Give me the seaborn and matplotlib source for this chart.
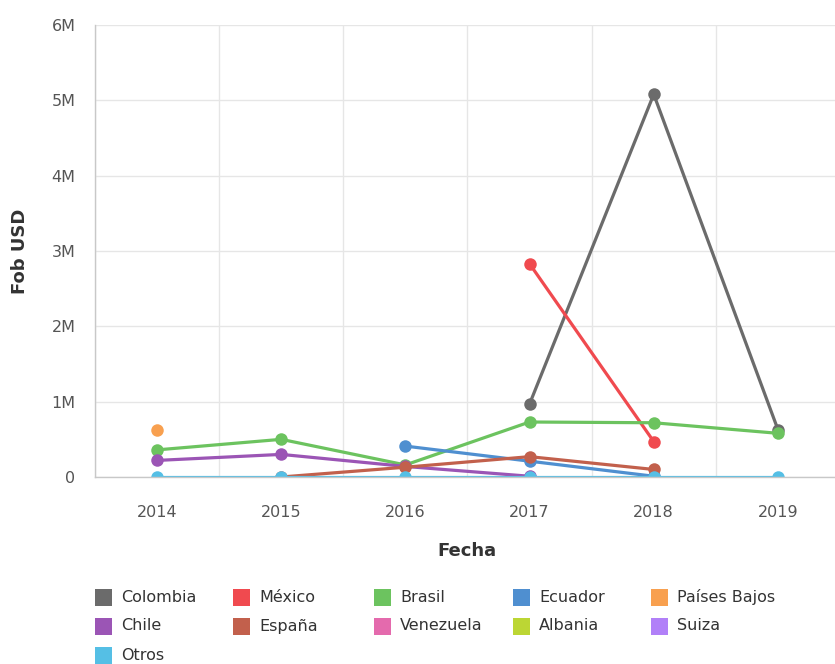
import numpy as np
import pandas as pd
import matplotlib
matplotlib.use("Agg")
import matplotlib.pyplot as plt
from matplotlib.patches import Rectangle
import seaborn as sns

# ---------------- data ----------------
years = ["2014", "2015", "2016", "2017", "2018", "2019"]
nan = np.nan
colombia = [nan, nan, nan, 0.97e6, 5.08e6, 0.63e6]
mexico = [nan, nan, nan, 2.83e6, 0.47e6, nan]
brasil = [0.36e6, 0.50e6, 0.16e6, 0.73e6, 0.72e6, 0.58e6]
ecuador = [nan, nan, 0.41e6, 0.21e6, 0.01e6, nan]
paises_bajos = [0.62e6, nan, nan, nan, nan, nan]
chile = [0.22e6, 0.30e6, 0.14e6, 0.01e6, nan, nan]
espana = [nan, 0.0, 0.13e6, 0.27e6, 0.10e6, nan]
venezuela = [nan, nan, nan, nan, nan, nan]
albania = [nan, nan, nan, nan, nan, nan]
suiza = [nan, nan, nan, nan, nan, nan]
otros = [0.005e6, 0.005e6, 0.005e6, 0.005e6, 0.005e6, 0.005e6]

countries = ["Colombia", "México", "Brasil", "Ecuador", "Países Bajos",
             "Chile", "España", "Venezuela", "Albania", "Suiza", "Otros"]
series = [colombia, mexico, brasil, ecuador, paises_bajos,
          chile, espana, venezuela, albania, suiza, otros]
colors = ["#6b6b6b", "#f04a4f", "#6cc35f", "#4f8fd0", "#f8a04f",
          "#9b55b5", "#c2604c", "#e46aad", "#bcd634", "#b180f8", "#55bfe5"]

ytick_vals = [0, 1e6, 2e6, 3e6, 4e6, 5e6, 6e6]
ytick_labels = ["0", "1M", "2M", "3M", "4M", "5M", "6M"]

rows = []
for c, vals in zip(countries, series):
    for i, v in enumerate(vals):
        rows.append({"pos": i, "Pais": c, "Valor": v})
df = pd.DataFrame(rows).dropna()

# ---------------- figure ----------------
sns.set_theme(style="white")
plt.rcParams["font.family"] = ["DejaVu Sans"]

W, H = 835, 664
fig = plt.figure(figsize=(W / 100, H / 100), dpi=100)
ax_left, ax_right, ax_top, ax_bottom = 95, 840, 25, 477
ax = fig.add_axes([ax_left / W, 1 - ax_bottom / H,
                   (ax_right - ax_left) / W, (ax_bottom - ax_top) / H])

palette = dict(zip(countries, colors))
sns.lineplot(data=df, x="pos", y="Valor", hue="Pais", hue_order=countries,
             palette=palette, marker="o", markersize=9, markeredgewidth=0,
             linewidth=2.3, estimator=None, errorbar=None, legend=False,
             sort=True, ax=ax)

ax.set_xlim(-0.5, len(years) - 0.5)
ax.set_ylim(0, 6e6)
ax.set_xticks(range(len(years)))
ax.set_xticklabels(years)
ax.set_xticks(np.arange(-0.5, len(years), 1.0), minor=True)
ax.set_yticks(ytick_vals)
ax.set_yticklabels(ytick_labels)

ax.grid(False)
ax.grid(True, which="minor", axis="x", color="#e6e6e6", linewidth=1)
ax.grid(True, which="major", axis="y", color="#e6e6e6", linewidth=1)
ax.set_axisbelow(True)

for s in ["top", "right"]:
    ax.spines[s].set_visible(False)
for s in ["left", "bottom"]:
    ax.spines[s].set_color("#c8c8c8")
    ax.spines[s].set_linewidth(1)

ax.tick_params(axis="x", which="both", length=0, pad=20, labelsize=11.5,
               labelcolor="#555555")
ax.tick_params(axis="y", which="both", length=0, pad=14, labelsize=11.5,
               labelcolor="#555555")

ax.set_xlabel("Fecha", fontsize=13, fontweight="bold", color="#333333")
ax.set_ylabel("Fob USD", fontsize=13, fontweight="bold", color="#333333")
ax.xaxis.label.set_verticalalignment("center")
ax.xaxis.set_label_coords(((467 - ax_left) / (ax_right - ax_left)),
                          -(551 - ax_bottom) / (ax_bottom - ax_top))
ax.yaxis.label.set_rotation_mode("default")
ax.yaxis.label.set_verticalalignment("center")
ax.yaxis.label.set_horizontalalignment("center")
ax.yaxis.set_label_coords(-(ax_left - 20) / (ax_right - ax_left),
                          (ax_bottom - 251) / (ax_bottom - ax_top))

# ---------------- legend (manual grid) ----------------
col_x = [95, 233, 374, 513, 651]
row_y = [597, 626, 655]
sw = 17
for k, (c, col) in enumerate(zip(countries, colors)):
    r, cidx = divmod(k, 5)
    x0 = col_x[cidx]
    yc = row_y[r]
    fig.add_artist(Rectangle((x0 / W, 1 - (yc + sw / 2) / H), sw / W, sw / H,
                             transform=fig.transFigure, facecolor=col,
                             edgecolor="none"))
    fig.text((x0 + 26) / W, 1 - yc / H, c, fontsize=11.5, color="#333333",
             ha="left", va="center")

fig.savefig("out.png", dpi=100)
